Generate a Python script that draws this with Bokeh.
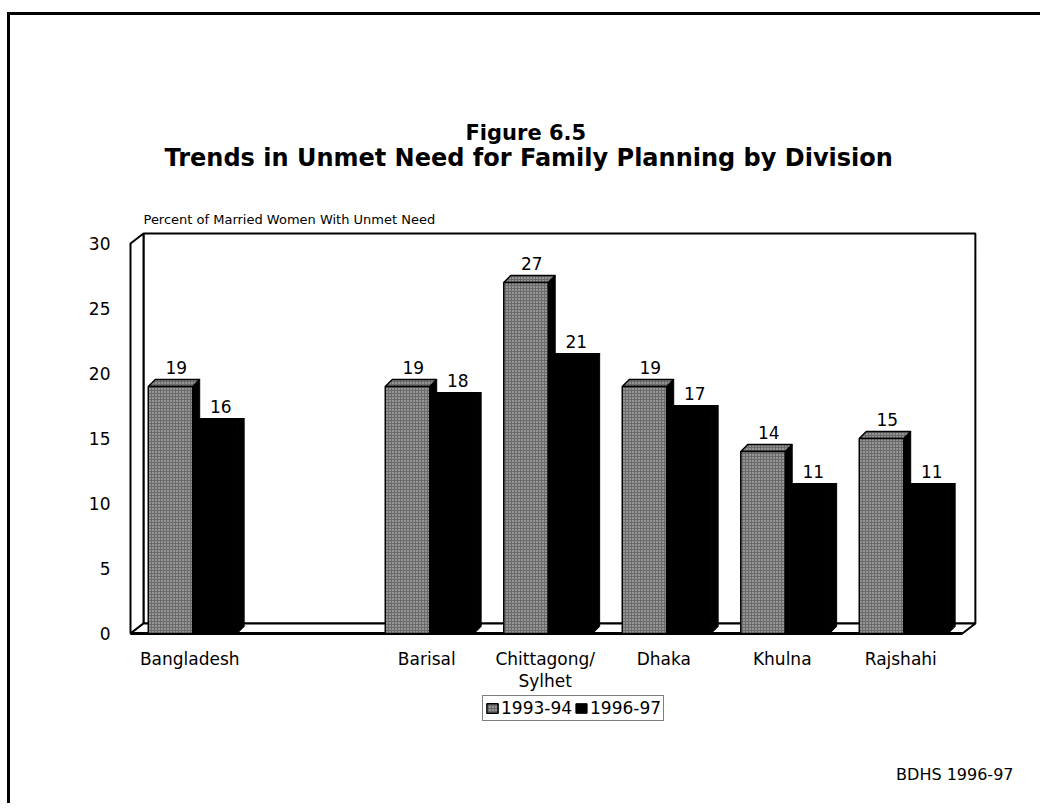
from bokeh.plotting import figure
from bokeh.models import Range1d, FixedTicker, Legend, LegendItem, Title, ColumnDataSource
from bokeh.core.properties import value
from bokeh.embed import file_html
from bokeh.resources import INLINE

# ---------------- data ----------------
categories = ["Bangladesh", "Barisal", "Chittagong/\nSylhet", "Dhaka", "Khulna", "Rajshahi"]
slots = [0, 2, 3, 4, 5, 6]          # Bangladesh is separated from the divisions by an empty slot
series = ["1993-94", "1996-97"]
values_1993 = [19, 19, 27, 19, 14, 15]
values_1996 = [16, 18, 21, 17, 11, 11]
y_ticks = [0, 5, 10, 15, 20, 25, 30]
title_lines = ["Figure 6.5", "Trends in Unmet Need for Family Planning by Division"]
y_label = "Percent of Married Women With Unmet Need"
source_note = "BDHS 1996-97"

# ---------------- geometry / style ----------------
FONT = "DejaVu Sans"
PX_X = 118.5            # pixels per slot
PX_Y = 13.0             # pixels per percent
FRAME_W, FRAME_H = 914, 573
X0 = -4 / PX_X
Y_TOP = 31.0
WALL_DX, WALL_DY = 13 / PX_X, 10 / PX_Y
BAR_DX, BAR_DY = 7 / PX_X, 7 / PX_Y
N_SLOTS = 7
Y_MAX = 30

p = figure(frame_width=FRAME_W, frame_height=FRAME_H, output_backend="svg",
           toolbar_location=None, title=None, x_axis_location=None,
           x_range=Range1d(X0, X0 + FRAME_W / PX_X),
           y_range=Range1d(Y_TOP - FRAME_H / PX_Y, Y_TOP),
           min_border_left=116, min_border_right=0, min_border_top=215, min_border_bottom=0,
           background_fill_color="white", border_fill_color="white", outline_line_color=None,
           styles={"border-left": "3px solid black", "border-top": "3px solid black",
                   "margin-top": "12px", "margin-left": "7px"})
p.grid.visible = False

# ---------------- 3D frame ----------------
wall_right = N_SLOTS + WALL_DX + 0.02
p.quad(left=WALL_DX, right=wall_right, bottom=WALL_DY, top=Y_MAX + WALL_DY,
       fill_color="white", line_color="black", line_width=2)
p.patch([0, WALL_DX, WALL_DX, 0], [0, WALL_DY, Y_MAX + WALL_DY, Y_MAX],
        fill_color="white", line_color="black", line_width=2)
p.patch([0, WALL_DX, wall_right, wall_right - WALL_DX], [0, WALL_DY, WALL_DY, 0],
        fill_color="white", line_color="black", line_width=2)
p.line([0, wall_right - WALL_DX], [0, 0], line_color="black", line_width=3)

# ---------------- bars ----------------
g_left = [s + 0.15 for s in slots]
g_right = [s + 0.525 for s in slots]
b_left = g_right
b_right = [s + 0.90 for s in slots]

gray_style = dict(fill_color="#6a6a6a", hatch_pattern="dot", hatch_color="#e6e6e6",
                  hatch_scale=3, hatch_weight=1.3, hatch_alpha=0.85,
                  line_color="black", line_width=1.5)
black_style = dict(fill_color="black", line_color="black", line_width=1)

def top_faces(lefts, rights, vals):
    xs = [[l, l + BAR_DX, r + BAR_DX, r] for l, r in zip(lefts, rights)]
    ys = [[v, v + BAR_DY, v + BAR_DY, v] for v in vals]
    return xs, ys

def side_faces(rights, vals):
    xs = [[r, r + BAR_DX, r + BAR_DX, r] for r in rights]
    ys = [[0, BAR_DY, v + BAR_DY, v] for v in vals]
    return xs, ys

# gray (1993-94)
sx, sy = side_faces(g_right, values_1993)
p.patches(sx, sy, fill_color="black", line_color="black", line_width=1)
tx, ty = top_faces(g_left, g_right, values_1993)
p.patches(tx, ty, **gray_style)
gray_r = p.quad(left=g_left, right=g_right, bottom=0, top=values_1993, **gray_style)

# black (1996-97)
sx, sy = side_faces(b_right, values_1996)
p.patches(sx, sy, **black_style)
tx, ty = top_faces(b_left, b_right, values_1996)
p.patches(tx, ty, **black_style)
black_r = p.quad(left=b_left, right=b_right, bottom=0, top=values_1996, **black_style)

# value labels
lab = ColumnDataSource(dict(
    x=[(l + r) / 2 + BAR_DX / 2 + 0.02 for l, r in zip(g_left, g_right)] +
      [(l + r) / 2 + BAR_DX / 2 + 0.02 for l, r in zip(b_left, b_right)],
    y=[v + BAR_DY for v in values_1993] + [v + BAR_DY for v in values_1996],
    t=[str(v) for v in values_1993] + [str(v) for v in values_1996]))
p.text(x="x", y="y", text="t", source=lab, text_align="center", text_baseline="alphabetic",
       y_offset=-12, text_font=value(FONT), text_font_size="17px", text_color="black")

# category labels under the floor
cat = ColumnDataSource(dict(x=[s + 0.5 for s in slots], y=[0] * len(slots), t=categories))
p.text(x="x", y="y", text="t", source=cat, text_align="center", text_baseline="top",
       y_offset=15, text_font=value(FONT), text_font_size="17px", text_color="black",
       text_line_height=1.1)

# source note
p.text(x=[(1013 - 130) / PX_X], y=[(633 - 774) / PX_Y], text=[source_note],
       text_align="right", text_baseline="middle", text_font=value(FONT),
       text_font_size="16px", text_color="black")

# ---------------- y axis ----------------
p.yaxis.ticker = FixedTicker(ticks=y_ticks)
p.yaxis.axis_line_color = None
p.yaxis.major_tick_line_color = None
p.yaxis.minor_tick_line_color = None
p.yaxis.major_tick_out = 0
p.yaxis.major_label_standoff = 16
p.yaxis.major_label_text_font = FONT
p.yaxis.major_label_text_font_size = "17px"
p.yaxis.major_label_text_color = "black"

# ---------------- titles (above, first = nearest to the plot) ----------------
p.add_layout(Title(text=y_label, align="left", offset=17, standoff=7,
                   text_font=FONT, text_font_size="13px", text_font_style="normal",
                   text_color="black"), "above")
p.add_layout(Title(text=title_lines[1], align="left", offset=38, standoff=69,
                   text_font=FONT, text_font_size="24px", text_font_style="bold",
                   text_color="black"), "above")
p.add_layout(Title(text=title_lines[0], align="left", offset=339, standoff=-75,
                   text_font=FONT, text_font_size="21px", text_font_style="bold",
                   text_color="black"), "above")

# ---------------- legend ----------------
legend = Legend(items=[LegendItem(label=series[0], renderers=[gray_r]),
                       LegendItem(label=series[1], renderers=[black_r])],
                location=(356, 82), orientation="horizontal",
                border_line_color="black", border_line_width=1.5,
                background_fill_color="white", background_fill_alpha=1,
                padding=2, spacing=2, margin=0, glyph_width=14, glyph_height=12,
                label_standoff=2, label_text_font=FONT, label_text_font_size="17px",
                label_text_color="black", label_height=14)
p.add_layout(legend)

open("out.html", "w").write(file_html(p, INLINE))
